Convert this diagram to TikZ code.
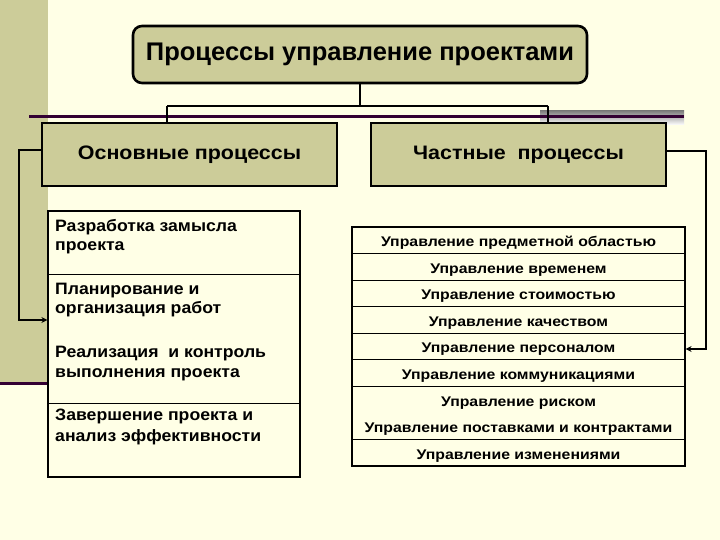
\documentclass[tikz,border=0pt]{standalone}
\usepackage{fontspec}
\setmainfont{Liberation Sans}
\newfontfamily\headfont[FakeStretch=1.1]{Liberation Sans}
\newfontfamily\leftfont[FakeStretch=1.07]{Liberation Sans}
\newfontfamily\rightfont[FakeStretch=1.13]{Liberation Sans}
\usetikzlibrary{arrows.meta}
\definecolor{cream}{HTML}{FFFFE6}
\definecolor{khaki}{HTML}{CCCC99}
\definecolor{plum}{HTML}{330033}
\definecolor{shade}{HTML}{B2B2B2}
\begin{document}
\begin{tikzpicture}[x=1pt,y=-1pt,
  headbox/.style={draw=black, line width=2.6pt, fill=khaki, inner sep=0pt,
    font=\headfont\bfseries\fontsize{19.5}{22}\selectfont},
  tablebox/.style={draw=black, line width=1.2pt, fill=cream, inner sep=0pt},
  ltext/.style={anchor=base west, inner sep=0pt, font=\leftfont\bfseries\fontsize{16.5}{19}\selectfont},
  rtext/.style={anchor=base, inner sep=0pt, font=\rightfont\bfseries\fontsize{14}{16}\selectfont},
  tree/.style={draw=black, line width=1.3pt},
  side/.style={draw=black, line width=2pt},
  tip/.style={-{Stealth[length=6pt,width=6pt]}},
  divider/.style={draw=black, line width=0.9pt}]
\fill[cream] (0,0) rectangle (720,540);
\useasboundingbox (0,0) rectangle (720,540);
% left band
\fill[khaki] (0,0) rectangle (48,383);
\draw[plum, line width=3pt] (0,383) -- (49,383);
% shade and purple line
\fill[shade] (540,111) rectangle (684,125);
\draw[plum, line width=3pt] (29,117) -- (684,117);
% title
\node[draw=black, line width=2.6pt, fill=khaki, rounded corners=9pt, inner sep=0pt,
  minimum width=454pt, minimum height=57pt,
  font=\bfseries\fontsize{25.5}{28}\selectfont] (title) at (360,54.5) {Процессы управление проектами};
% head boxes
\node[headbox, minimum width=295pt, minimum height=63pt] (main) at (189.5,154.5) {Основные процессы};
\node[headbox, minimum width=295pt, minimum height=63pt] (part) at (518.5,154.5) {Частные\ \ процессы};
% tree connectors
\coordinate (jl) at (167,106);
\coordinate (jr) at (548,106);
\draw[tree] (title.south) -- (title.south |- jl);
\draw[tree] (jl) -- (jr);
\draw[tree] (jl) -- (jl |- main.north);
\draw[tree] (jr) -- (jr |- part.north);
% left table
\node[tablebox, minimum width=252pt, minimum height=266pt] (ltab) at (174,344) {};
\draw[divider] (ltab.west |- 0,274) -- (ltab.east |- 0,274);
\draw[divider] (ltab.west |- 0,403) -- (ltab.east |- 0,403);
\node[ltext] (l1) at (55,231) {Разработка замысла};
\node[ltext] (l2) at (55,250) {проекта};
\node[ltext] (l3) at (55,294) {Планирование и};
\node[ltext] (l4) at (55,313) {организация работ};
\node[ltext] (l5) at (55,357) {Реализация\ \ и контроль};
\node[ltext] (l6) at (55,377) {выполнения проекта};
\node[ltext] (l7) at (55,420) {Завершение проекта и};
\node[ltext] (l8) at (55,441) {анализ эффективности};
% right table
\node[tablebox, minimum width=333pt, minimum height=239pt] (rtab) at (518.5,346.5) {};
\foreach \yy in {253.5,280,306.5,333,359.5,386,439.5}
  \draw[divider] (rtab.west |- 0,\yy) -- (rtab.east |- 0,\yy);
\node[rtext] (r1) at (518.5,246) {Управление предметной областью};
\node[rtext] (r2) at (518.5,273) {Управление временем};
\node[rtext] (r3) at (518.5,299.5) {Управление стоимостью};
\node[rtext] (r4) at (518.5,326) {Управление качеством};
\node[rtext] (r5) at (518.5,352.5) {Управление персоналом};
\node[rtext] (r6) at (518.5,379) {Управление коммуникациями};
\node[rtext] (r7) at (518.5,406) {Управление риском};
\node[rtext] (r8) at (518.5,432.5) {Управление поставками и контрактами};
\node[rtext] (r9) at (518.5,459) {Управление изменениями};
% side connectors
\coordinate (lc) at (19,150);
\coordinate (rc) at (706,151);
\draw[side, tip] (main.west |- lc) -- (lc) -- (lc |- 0,320) -- (ltab.west |- 0,320);
\draw[side, tip] (part.east |- rc) -- (rc) -- (rc |- 0,349) -- (rtab.east |- 0,349);
\end{tikzpicture}
\end{document}
